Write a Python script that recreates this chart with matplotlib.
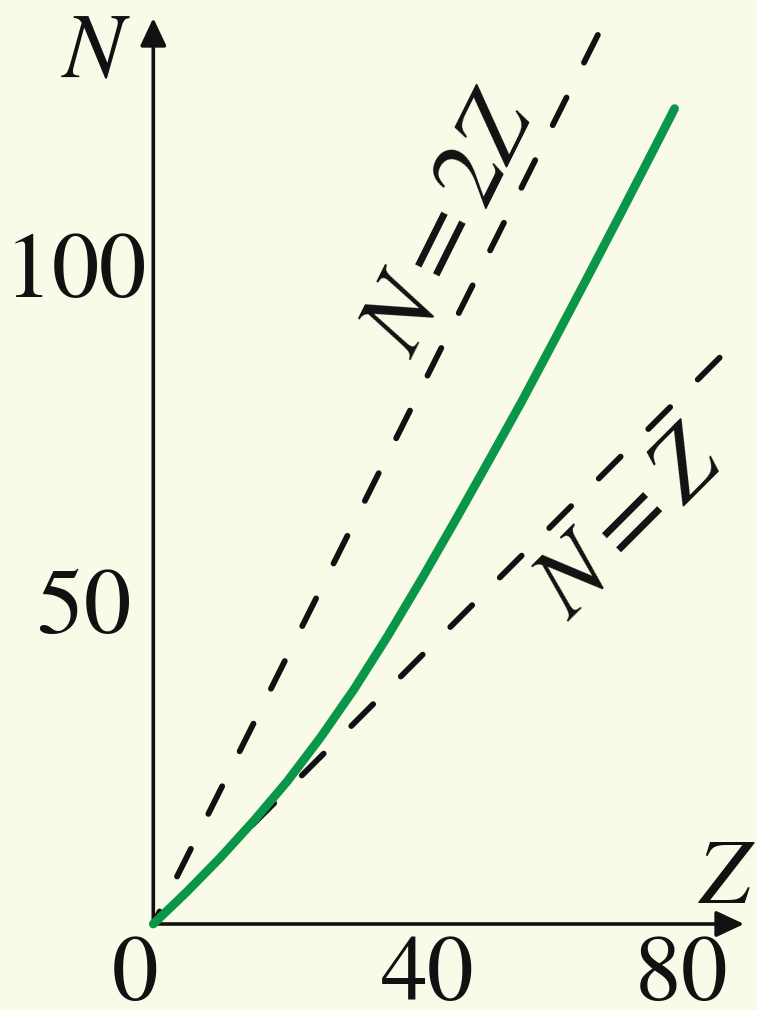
import matplotlib
matplotlib.use("Agg")
import matplotlib.pyplot as plt

plt.rcParams['mathtext.fontset'] = 'stix'

# stability curve (Z, N)
z_stable = [0, 5, 10, 15, 20, 25, 30, 35, 40, 45, 50, 55, 60, 65, 70, 75, 77.8]
n_stable = [0, 4.8, 9.9, 15.4, 21.3, 27.9, 35.1, 43.0, 51.4, 60.1, 69.0,
            78.0, 87.4, 96.9, 106.5, 116.2, 121.7]

# reference lines N = Z and N = 2Z
z_eq = [0, 86.0]
n_eq = [0, 86.0]
z_double = [0, 67.2]
n_double = [0, 134.4]

x_ticks = [0, 40, 80]
x_tick_labels = ["0", "40", "80"]
y_ticks = [50, 100]
y_tick_labels = ["50", "100"]

bg = '#FAFAE8'
green = '#0A9648'
ink = '#111111'

W, H, dpi = 757, 1010, 100
ox, oy, s = 153.3, 924.0, 6.7   # origin in pixels and pixels per unit

fig = plt.figure(figsize=(W / dpi, H / dpi), dpi=dpi, facecolor=bg)
ax = fig.add_axes([0, 0, 1, 1])
ax.set_facecolor(bg)
ax.set_xlim(-ox / s, (W - ox) / s)
ax.set_ylim((oy - H) / s, oy / s)
ax.axis('off')

# dashed guide lines
lw_d = 4.2
ax.plot(z_eq, n_eq, color=ink, lw=lw_d,
        linestyle=(0, (5.3, 6.7)), dash_capstyle='round', zorder=2)
ax.plot(z_double, n_double, color=ink, lw=lw_d,
        linestyle=(2.9, (5.3, 6.7)), dash_capstyle='round', zorder=2)

# green curve
ax.plot(z_stable, n_stable, color=green, lw=6.3,
        solid_capstyle='round', solid_joinstyle='round', zorder=4)

# axes with arrows
x_tip = (744 - ox) / s
y_tip = (oy - 18) / s
arrow = dict(arrowstyle='-|>,head_length=0.85,head_width=0.4',
             mutation_scale=20, lw=2.6, color=ink,
             shrinkA=0, shrinkB=0)
ax.annotate('', xy=(x_tip, 0), xytext=(0, 0), arrowprops=arrow, zorder=3)
ax.annotate('', xy=(0, y_tip), xytext=(0, 0), arrowprops=arrow, zorder=3)

# tick labels (mathtext keeps the box tight to the digits)
x_offsets = [(-19, -76), (5, -76), (-9, -76)]
for t, lab, off in zip(x_ticks, x_tick_labels, x_offsets):
    ax.annotate('$' + lab + '$', xy=(t, 0), xytext=off, textcoords='offset pixels',
                ha='center', va='baseline', fontsize=67, color=ink)
y_offsets = [(-23, -44), (-8, -43)]
for t, lab, off in zip(y_ticks, y_tick_labels, y_offsets):
    ax.annotate('$' + lab + '$', xy=(0, t), xytext=off, textcoords='offset pixels',
                ha='right', va='baseline', fontsize=68, color=ink)

# axis names
ax.annotate('$N$', xy=(0, y_tip), xytext=(-57, -59), textcoords='offset pixels',
            ha='center', va='baseline', fontsize=66, color=ink)
ax.annotate('$Z$', xy=(x_tip, 0), xytext=(-17, 21), textcoords='offset pixels',
            ha='center', va='baseline', fontsize=66, color=ink)

# line labels
ax.text((449 - ox) / s, (oy - 224) / s, '$N=2Z$', fontsize=72, color=ink,
        rotation=63.5, rotation_mode='anchor', ha='center', va='center', zorder=5)
ax.text((629 - ox) / s, (oy - 523) / s, '$N=Z$', fontsize=71, color=ink,
        rotation=45, rotation_mode='anchor', ha='center', va='center', zorder=5)

fig.savefig('out.png', dpi=dpi, facecolor=bg)
